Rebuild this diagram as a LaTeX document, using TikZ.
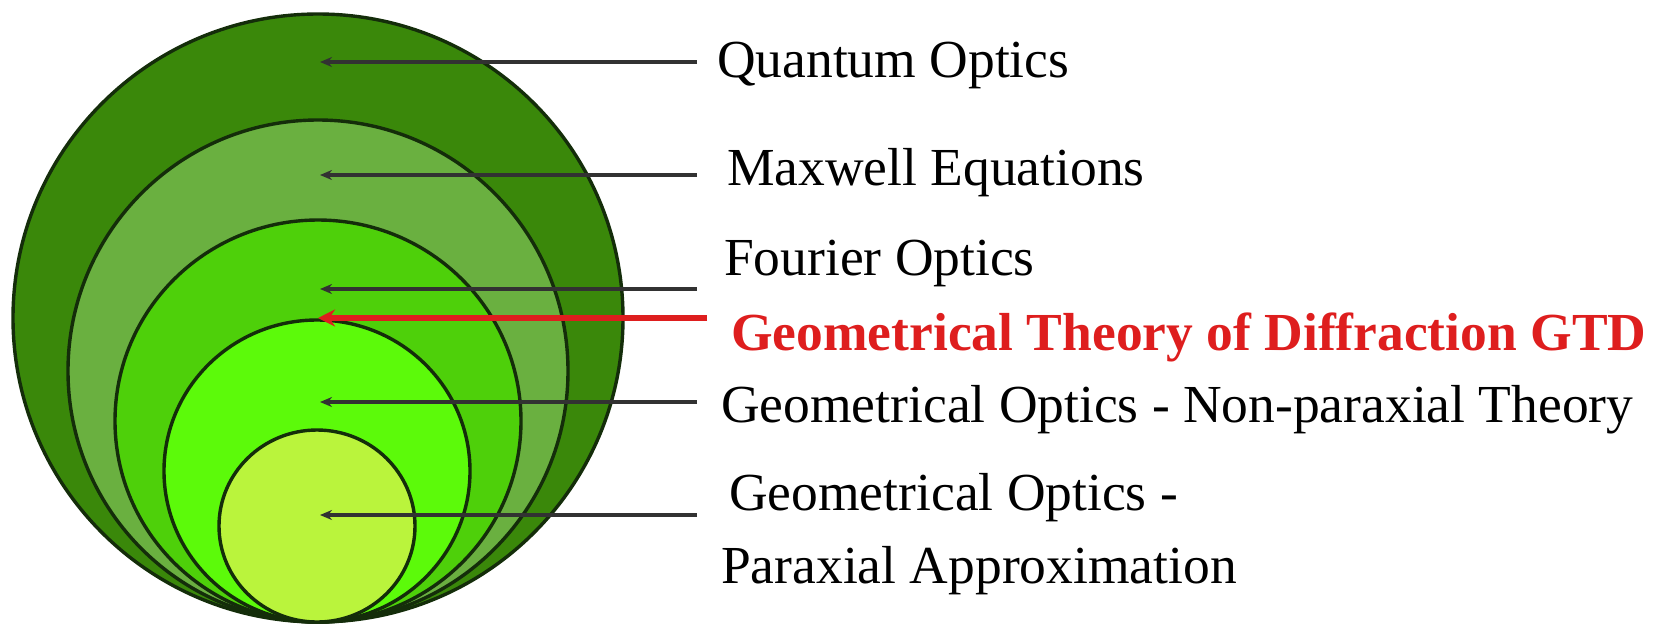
\documentclass[tikz,border=0pt]{standalone}
\usepackage{fontspec}
\setmainfont{Liberation Serif}
\usetikzlibrary{arrows.meta}
\definecolor{gOuter}{RGB}{58,136,10}
\definecolor{gMax}{RGB}{106,176,64}
\definecolor{gFour}{RGB}{78,208,10}
\definecolor{gGeo}{RGB}{92,250,10}
\definecolor{gPar}{RGB}{186,244,60}
\definecolor{ringline}{RGB}{20,45,10}
\definecolor{leadgrey}{RGB}{50,50,50}
\definecolor{gtdred}{RGB}{222,30,30}
\tikzset{
  ring/.style={draw=ringline, line width=3.4pt},
  lead/.style={draw=leadgrey, line width=3.2pt, -{Stealth[length=12pt,width=10pt]}},
  redlead/.style={draw=gtdred, line width=6pt, -{Stealth[length=17pt,width=17pt]}},
  lbl/.style={anchor=base west, inner sep=0pt, font=\fontsize{53.5}{60}\selectfont},
  redlbl/.style={lbl, text=gtdred, font=\fontsize{53.5}{60}\selectfont\bfseries},
}
\begin{document}
\begin{tikzpicture}[x=1pt,y=-1pt]
\useasboundingbox (0,0) rectangle (1656,625);
% nested rings
\draw[ring, fill=gOuter] (318,318) ellipse [x radius=305, y radius=304];
\draw[ring, fill=gMax]   (318,371) ellipse [x radius=250, y radius=251];
\draw[ring, fill=gFour]  (318,421) ellipse [x radius=203, y radius=201];
\draw[ring, fill=gGeo]   (317,471) ellipse [x radius=153, y radius=151];
\draw[ring, fill=gPar]   (317,526) ellipse [x radius=98, y radius=96];
% coordinates
\coordinate (dQ) at (320,62);
\coordinate (dM) at (320,175);
\coordinate (dF) at (320,289);
\coordinate (dR) at (318,318);
\coordinate (dG) at (320,402);
\coordinate (dP) at (320,515);
\coordinate (eQ) at (697,62);
\coordinate (eM) at (697,175);
\coordinate (eF) at (697,289);
\coordinate (eR) at (707,318);
\coordinate (eG) at (697,402);
\coordinate (eP) at (697,515);
% leaders
\draw[lead] (eQ) -- (dQ);
\draw[lead] (eM) -- (dM);
\draw[lead] (eF) -- (dF);
\draw[lead] (eG) -- (dG);
\draw[lead] (eP) -- (dP);
\draw[redlead] (eR) -- (dR);
% labels
\node[lbl] (tQ) at (717,77) {Quantum Optics};
\node[lbl] (tM) at (727,185) {Maxwell Equations};
\node[lbl] (tF) at (724,275) {Fourier Optics};
\node[redlbl] (tR) at (731,350) {Geometrical Theory of Diffraction GTD};
\node[lbl] (tG) at (721,422) {Geometrical Optics - Non-paraxial Theory};
\node[lbl] (tP1) at (729,510) {Geometrical Optics -};
\node[lbl] (tP2) at (721,583) {Paraxial Approximation};
\end{tikzpicture}
\end{document}
